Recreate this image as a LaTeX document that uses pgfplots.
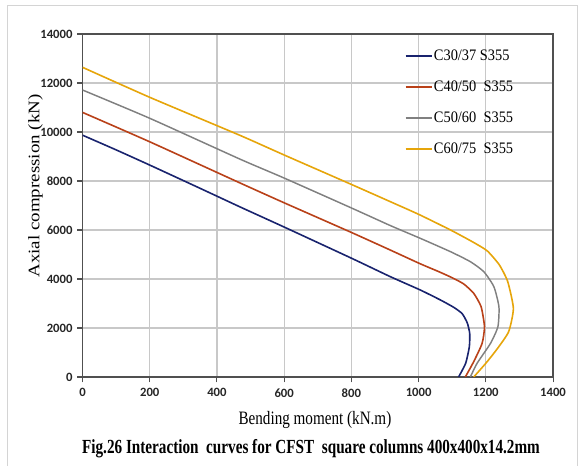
\documentclass[border=0pt]{standalone}
\usepackage{fontspec}
\setmainfont{Liberation Serif}
\newfontfamily\ticks{Carlito}
\usepackage{graphicx}
\usepackage{pgfplots}
\pgfplotsset{compat=1.18}
\definecolor{cblue}{RGB}{25,35,110}
\definecolor{cred}{RGB}{185,65,25}
\definecolor{cgray}{RGB}{128,128,128}
\definecolor{cyellow}{RGB}{230,165,10}
\definecolor{gridc}{RGB}{200,200,200}
\definecolor{axisc}{RGB}{80,80,80}
\definecolor{framec}{RGB}{212,212,212}

\begin{document}
\begin{tikzpicture}
\useasboundingbox (0,0) rectangle (438.75pt,349.5pt);
\draw[framec, line width=1.1pt] (5.6pt,0pt) -- (5.6pt,345.4pt) -- (433.1pt,345.4pt) -- (433.1pt,0pt);
\begin{axis}[
    at={(61.875pt,66.75pt)}, anchor=south west,
    scale only axis,
    width=352.9pt, height=257.25pt,
    xmin=0, xmax=1400, ymin=0, ymax=14000,
    xtick={0,200,...,1400},
    ytick={0,2000,...,14000},
    scaled y ticks=false,
    grid=major,
    grid style={gridc, line width=0.9pt},
    axis line style={axisc, line width=1pt},
    tick style={axisc, line width=0.8pt},
    tick align=outside,
    major tick length=4pt,
    xtick pos=bottom, ytick pos=left,
    /pgf/number format/1000 sep={},
    /pgf/number format/assume math mode=true,
    ticklabel style={font=\ticks\bfseries\fontsize{9.5pt}{10pt}\selectfont, text=black!85},
    xticklabel style={yshift=-1pt},
    xlabel={\scalebox{0.8}[1]{Bending moment (kN.m)}},
    ylabel={\scalebox{1}[0.85]{Axial compression (kN)}},
    xlabel style={font=\fontsize{14.2pt}{16pt}\selectfont, at={(axis description cs:0.494,-0.125)}, anchor=center},
    ylabel style={font=\fontsize{14.2pt}{16pt}\selectfont, at={(axis description cs:-0.100,0.557)}, anchor=center},
    legend cell align=left,
    legend style={draw=none, fill=none, at={(axis description cs:0.684,0.962)}, anchor=north west,
        font=\fontsize{12pt}{13pt}\selectfont, row sep=9.8pt, inner sep=0pt,
        nodes={inner xsep=1pt, inner ysep=2pt}},
    legend image code/.code={\draw[#1, line width=1.5pt] (0pt,0pt) -- (19.5pt,0pt);},
]
\addplot[cblue, line width=1.2pt, smooth, tension=0.35] coordinates {
(0,9870)(100,9270)(200,8650)(350,7700)(469,6940)(600,6120)(800,4850)(916,4094)
(1005,3551)(1065,3143)(1105,2840)(1130,2580)(1145,2200)(1152,1782)(1151,1238)(1140,559)(1119,0)};
\addlegendentry{\scalebox{0.9}[1]{C30/37 S355}}
\addplot[cred, line width=1.2pt, smooth, tension=0.35] coordinates {
(0,10800)(200,9600)(469,7918)(600,7110)(800,5900)(916,5180)(1005,4620)(1060,4300)
(1100,4050)(1134,3800)(1164,3414)(1186,2869)(1196,2053)(1189,1375)(1164,626)(1139,0)};
\addlegendentry{\scalebox{0.9}[1]{C40/50\ \ S355}}
\addplot[cgray, line width=1.1pt, smooth, tension=0.35] coordinates {
(0,11714)(200,10560)(469,8890)(600,8120)(800,6900)(916,6180)(1005,5660)(1095,5114)
(1154,4706)(1194,4298)(1224,3686)(1239,2869)(1236,2053)(1214,1375)(1174,559)(1154,0)};
\addlegendentry{\scalebox{0.9}[1]{C50/60\ \ S355}}
\addplot[cyellow, line width=1.2pt, smooth, tension=0.35] coordinates {
(0,12640)(200,11416)(469,9860)(600,9061)(800,7860)(916,7155)(1000,6640)(1095,6000)
(1160,5520)(1204,5150)(1240,4580)(1265,3900)(1282,2800)(1268,1850)(1234,1150)(1200,560)(1164,0)};
\addlegendentry{\scalebox{0.9}[1]{C60/75\ \ S355}}
\end{axis}
\node[font=\bfseries\fontsize{15pt}{17pt}\selectfont] at (233.25pt,12.75pt)
  {\scalebox{0.76}[1]{Fig.26 Interaction\ \ curves for CFST\ \ square columns 400x400x14.2mm}};
\end{tikzpicture}
\end{document}
